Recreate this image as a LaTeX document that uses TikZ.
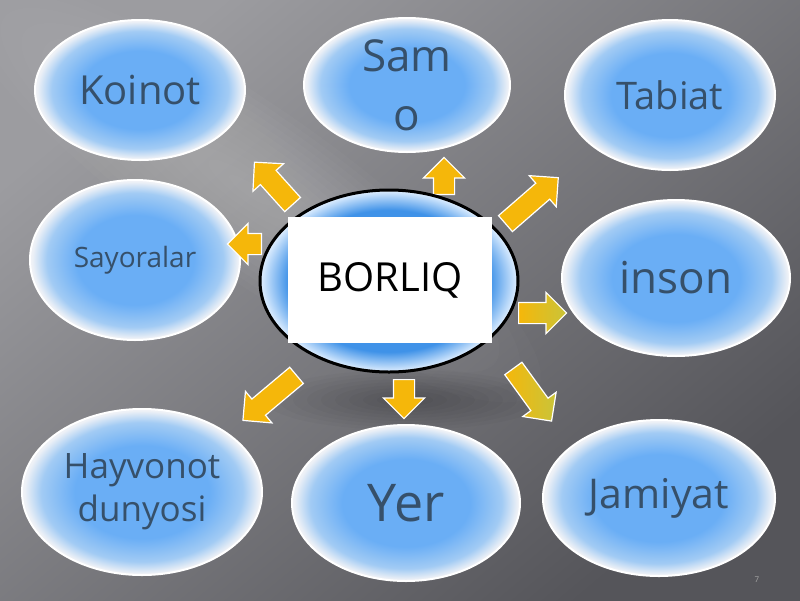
\documentclass[tikz,border=0pt]{standalone}
\usepackage{fontspec}
\setmainfont{Open Sans}
\usetikzlibrary{shapes.geometric,shapes.arrows}
\definecolor{bubc}{HTML}{6AAEF5}
\definecolor{bubm}{HTML}{A2CBF4}
\definecolor{bube}{HTML}{EEF1F6}
\definecolor{txt}{HTML}{36506A}
\definecolor{gold}{HTML}{F5B70A}
\definecolor{goldg}{HTML}{C9C43A}
\definecolor{cdark}{HTML}{3F92E8}
\definecolor{clight}{HTML}{E2F0FF}
\definecolor{bgl}{HTML}{9C9CA0}
\definecolor{bgd}{HTML}{55555A}
\pgfdeclareradialshading{bubble}{\pgfpoint{0bp}{0bp}}{color(0bp)=(bubc);color(14bp)=(bubc);color(21bp)=(bubm);color(24.5bp)=(bube);color(25bp)=(bube);color(50bp)=(bube)}
\pgfdeclareradialshading{core}{\pgfpoint{0bp}{0bp}}{color(0bp)=(cdark);color(19.5bp)=(cdark);color(25bp)=(clight);color(50bp)=(clight)}
\tikzset{
  bubblenode/.style={ellipse, draw=white, line width=2pt, shading=bubble, inner sep=0pt, text=txt, align=center},
  blockarrow/.style={single arrow, draw=white, line width=1.2pt, fill=gold, inner sep=10pt, single arrow head extend=10pt, minimum width=1pt, anchor=tail},
  greenarrow/.style={blockarrow, left color=gold, right color=goldg}
}
\begin{document}
\begin{tikzpicture}[x=1pt,y=-1pt]
\useasboundingbox (0,0) rectangle (800,600);
% background
\shade[top color=bgl, bottom color=bgd, shading angle=40] (0,0) rectangle (800,600);
\foreach \i in {1,...,14}{
  \fill[white, opacity=0.018, rotate around={-35:(250,190)}] (250,190) ellipse [x radius={25pt*\i}, y radius={6pt*\i}];
}
\foreach \i in {1,...,10}{
  \fill[black, opacity=0.025] (405,400) ellipse [x radius={14pt*\i}, y radius={3pt*\i}];
}
% bubbles
\node[bubblenode, minimum width=210pt, minimum height=140pt, font=\fontsize{40}{48}\selectfont] (koinot) at (140,90) {Koinot};
\node[bubblenode, minimum width=206pt, minimum height=134pt, font=\fontsize{44}{59}\selectfont] (samo) at (407,85) {Sam\\o};
\node[bubblenode, minimum width=210pt, minimum height=150pt, font=\fontsize{38}{46}\selectfont] (tabiat) at (670,95) {Tabiat};
\node[bubblenode, minimum width=210pt, minimum height=160pt, font=\fontsize{28}{34}\selectfont] (sayoralar) at (135,260) {Sayoralar};
\node[bubblenode, minimum width=228pt, minimum height=156pt, font=\fontsize{44}{53}\selectfont] (inson) at (676,278) {inson};
\node[bubblenode, minimum width=240pt, minimum height=166pt, font=\fontsize{35}{43}\selectfont] (hayvonot) at (142,492) {Hayvonot\\dunyosi};
\node[bubblenode, minimum width=228pt, minimum height=156pt, font=\fontsize{52}{62}\selectfont] (yer) at (406,503) {Yer};
\node[bubblenode, minimum width=232pt, minimum height=156pt, font=\fontsize{41}{49}\selectfont] (jamiyat) at (659,498) {Jamiyat};
% arrows
\node[blockarrow, rotate=132, minimum height=57pt] (a1) at (293,205) {};
\node[blockarrow, rotate=90, minimum height=37pt] (a2) at (444,195) {};
\node[blockarrow, rotate=41, minimum height=70pt] (a3) at (505,224) {};
\node[blockarrow, rotate=180, minimum height=34pt] (a4) at (262,244) {};
\node[greenarrow, rotate=0, minimum height=48pt] (a5) at (518,313) {};
\node[blockarrow, rotate=220, minimum height=70pt] (a6) at (297,375) {};
\node[blockarrow, rotate=-90, minimum height=39pt] (a7) at (404,379) {};
\node[greenarrow, rotate=-54, minimum height=65pt] (a8) at (513,368) {};
% centre
\node[ellipse, draw=black, line width=3pt, shading=core, minimum width=258pt, minimum height=182pt] (core) at (389,281) {};
\node[fill=white, minimum width=204pt, minimum height=126pt, inner sep=0pt, font=\fontsize{40}{48}\selectfont] (borliq) at (390,280) {BORLIQ};
% page number
\node[text=gray!70, font=\fontsize{8}{9}\selectfont] (pg) at (757,580) {7};
\end{tikzpicture}
\end{document}
